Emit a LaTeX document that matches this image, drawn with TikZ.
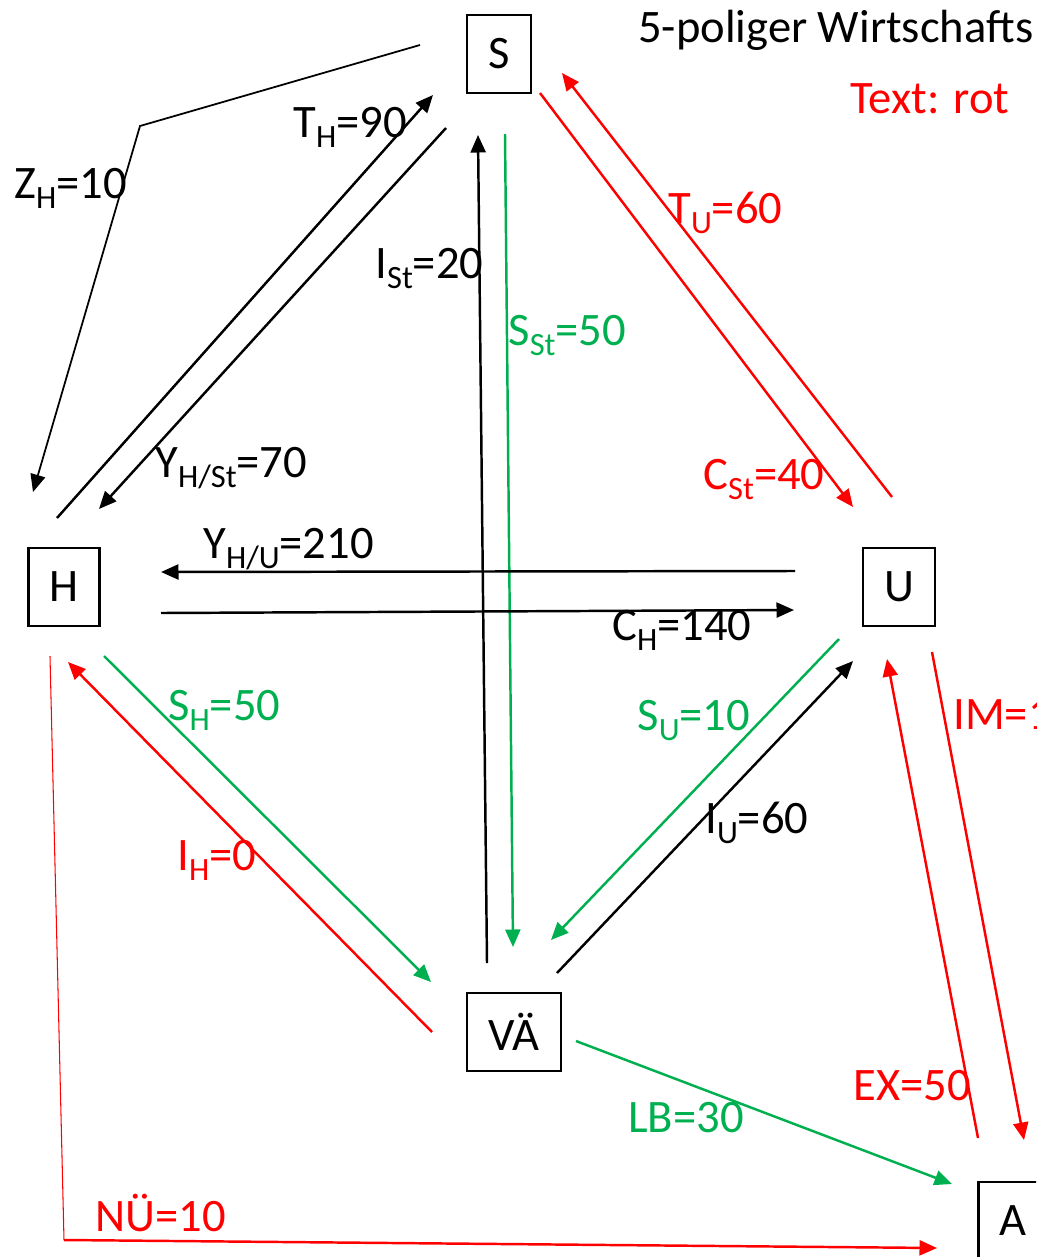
\documentclass[tikz,border=0pt]{standalone}
\usepackage{fontspec}
\setmainfont{Carlito}
\usepackage{tikz}
\usetikzlibrary{arrows.meta,calc}
\definecolor{rd}{HTML}{FF0000}
\definecolor{gn}{HTML}{00B050}
\definecolor{ink}{HTML}{000000}
\newcommand{\lo}[1]{\raisebox{-0.23em}{\fontsize{18.5}{19}\selectfont #1}}
\tikzset{
  pole/.style={draw=ink,line width=1.2pt,minimum height=1.56cm,inner xsep=0.42cm,
    inner ysep=0pt,font=\fontsize{26.5}{30}\selectfont,text=ink},
  lbl/.style={anchor=base west,inner sep=0pt,font=\fontsize{26.5}{30}\selectfont,text=#1},
  lbl/.default=ink,
  flow/.style={-{Triangle[length=3.5mm,width=3mm]},line width=1.4pt,draw=#1},
  flow/.default=ink,
}

\begin{document}
\begin{tikzpicture}[x=0.02cm,y=-0.02cm]
    \useasboundingbox (0,0) rectangle (1036,1257);
    \clip (0,0) rectangle (1036,1257);
    \node[pole] (S)  at (499,54)   {S};
    \node[pole] (H)  at (64,587)   {H};
    \node[pole] (U)  at (899,587)  {U};
    \node[pole] (VA) at (514,1032) {VÄ};
    \node[pole] (A)  at (1013,1221) {A};
    \coordinate (zbend) at (140,126);
    \coordinate (nucorner) at (64,1240);
    \draw[flow,line width=1pt] ([shift={(-79,-9)}]S.center) -- (zbend) -- ([shift={(-31,-95)}]H.center);
    \draw[flow] ([shift={(-7,-69)}]H.center) -- ([shift={(-66,41)}]S.center);
    \draw[flow] ([shift={(-53,74)}]S.center) -- ([shift={(35,-78)}]H.center);
    \draw[flow] ([shift={(-27,-69)}]VA.center) -- ([shift={(-21,81)}]S.center);
    \draw[flow=gn] ([shift={(6,80)}]S.center) -- ([shift={(-1,-85)}]VA.center);
    \draw[flow=rd] ([shift={(-7,-90)}]U.center) -- ([shift={(63,19)}]S.center);
    \draw[flow=rd] ([shift={(41,39)}]S.center) -- ([shift={(-46,-80)}]U.center);
    \draw[flow] ([shift={(-104,-16)}]U.center) -- ([shift={(97,-15)}]H.center);
    \draw[flow] ([shift={(97,26)}]H.center) -- ([shift={(-105,23)}]U.center);
    \draw[flow=gn] ([shift={(40,69)}]H.center) -- ([shift={(-83,-50)}]VA.center);
    \draw[flow=rd] ([shift={(-82,0)}]VA.center) -- ([shift={(4,75)}]H.center);
    \draw[flow=gn] ([shift={(-60,52)}]U.center) -- ([shift={(37,-92)}]VA.center);
    \draw[flow] ([shift={(43,-59)}]VA.center) -- ([shift={(-46,74)}]U.center);
    \draw[flow=rd] ([shift={(33,65)}]U.center) -- ([shift={(11,-81)}]A.center);
    \draw[flow=rd] ([shift={(-35,-83)}]A.center) -- ([shift={(-12,72)}]U.center);
    \draw[flow=gn] ([shift={(62,9)}]VA.center) -- ([shift={(-61,-37)}]A.center);
    \draw[rd,line width=0.6pt] ([shift={(-14,69)}]H.center) -- (nucorner);
    \draw[flow=rd] (nucorner) -- ([shift={(-76,27)}]A.center);
    \node[lbl] (zh)   at (14,198)   {Z\lo{H}=10};
    \node[lbl] (th)   at (293,137)  {T\lo{H}=90};
    \node[lbl] (yhst) at (155,477)  {Y\lo{H/St}=70};
    \node[lbl] (ist)  at (375,278)  {I\lo{St}=20};
    \node[lbl=gn] (sst) at (508,345) {S\lo{St}=50};
    \node[lbl=rd] (tu)  at (668,223) {T\lo{U}=60};
    \node[lbl=rd] (cst) at (703,489) {C\lo{St}=40};
    \node[lbl] (yhu)  at (203,558)  {Y\lo{H/U}=210};
    \node[lbl] (ch)   at (612,640)  {C\lo{H}=140};
    \node[lbl=gn] (sh)  at (168,720) {S\lo{H}=50};
    \node[lbl=rd] (ih)  at (177,870) {I\lo{H}=0};
    \node[lbl=gn] (su)  at (637,730) {S\lo{U}=10};
    \node[lbl] (iu)   at (705,833)  {I\lo{U}=60};
    \node[lbl=rd] (im)  at (953,729) {IM=1};
    \node[lbl=rd] (ex)  at (853,1100) {EX=50};
    \node[lbl=gn] (lb)  at (628,1132) {LB=30};
    \node[lbl=rd] (nu)  at (95,1231) {NÜ=10};
    \node[lbl] (title) at (638,43)  {5-poliger Wirtschafts};
    \node[lbl=rd] (key) at (850,113) {Text: rot};
  \end{tikzpicture}
\end{document}
